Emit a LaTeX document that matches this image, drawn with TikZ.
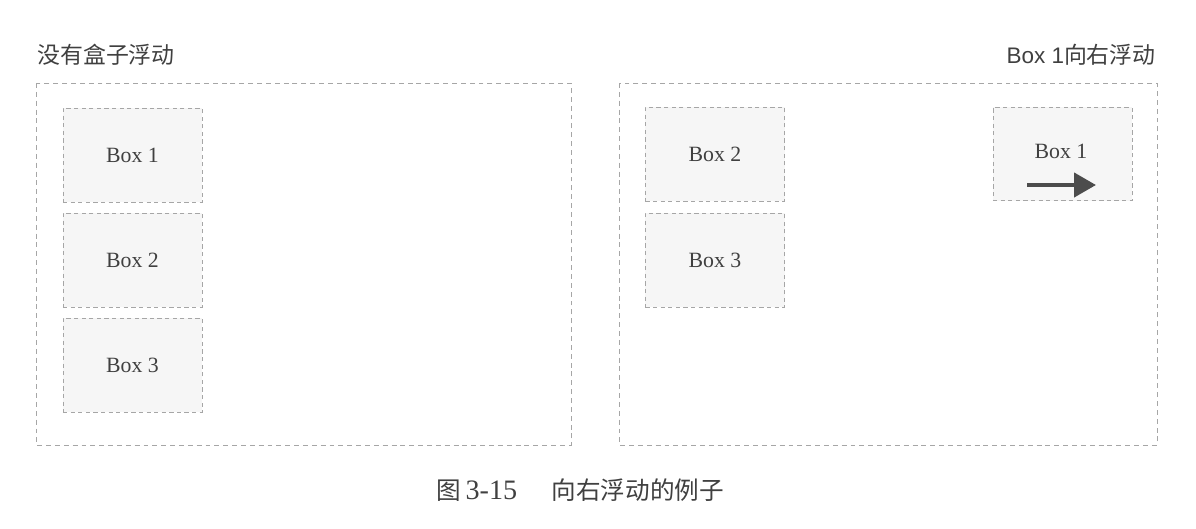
\documentclass[tikz,border=0pt]{standalone}
\usepackage{fontspec}
\setmainfont{Liberation Serif}
\newfontfamily\cjk{Noto Sans CJK SC}
\newfontfamily\arial{Liberation Sans}
\usetikzlibrary{arrows.meta}

\tikzset{
	outerbox/.style={draw=gray!70, line width=0.65pt, dash pattern=on 3.5pt off 2.8pt},
	floatbox/.style={draw=gray!70, fill=gray!7, line width=0.65pt, dash pattern=on 3pt off 2.4pt,
		minimum width=3.475cm, minimum height=2.35cm, inner sep=0pt, text=black!75, font=\fontsize{15.5}{18}\selectfont},
	title/.style={text=black!75, inner sep=0pt, font=\fontsize{16.3}{19}\selectfont},
	moveto/.style={line width=1.1mm, draw=black!70, -{Triangle[length=5.5mm, width=6mm]}}
}

\begin{document}
\begin{tikzpicture}[x=0.025cm, y=-0.025cm]
			%%%%% START %%%%%
			
			\useasboundingbox (0, 0) rectangle (1196, 528);
			
			% left: no float
			\node[title, anchor=west] (lefttitle) at (37, 55) {\cjk 没有盒子浮动};
			\draw[outerbox] (36, 83) rectangle (571, 445);
			\node[floatbox] (lbox1) at (132.5, 155) {Box 1};
			\node[floatbox] (lbox2) at (132.5, 260) {Box 2};
			\node[floatbox] (lbox3) at (132.5, 365) {Box 3};
			
			% right: box 1 floats right
			\node[title, anchor=east] (righttitle) at (1156, 55) {{\arial\fontsize{16}{18}\selectfont Box 1}\cjk 向右浮动};
			\draw[outerbox] (619, 83) rectangle (1157, 445);
			\node[floatbox] (rbox2) at (715, 154) {Box 2};
			\node[floatbox] (rbox3) at (715, 260) {Box 3};
			\node[floatbox, minimum width=3.475cm, minimum height=2.325cm] (rbox1) at (1062.5, 154) {};
			\node[text=black!75, font=\fontsize{15.5}{18}\selectfont] (rbox1text) at (1061, 151) {Box 1};
			\coordinate (arrowstart) at (1027, 185);
			\coordinate (arrowend) at (1096, 185);
			\draw[moveto] (arrowstart) -- (arrowend);
			
			% caption
			\node[text=black!75, font=\fontsize{17.5}{20}\selectfont] (caption) at (580, 490) {\cjk 图\hspace{0.2em}{\rmfamily\fontsize{20}{22}\selectfont 3-15}\hspace{1.4em}\cjk 向右浮动的例子};
			
			%%%%% END %%%%%
		\end{tikzpicture}
\end{document}
